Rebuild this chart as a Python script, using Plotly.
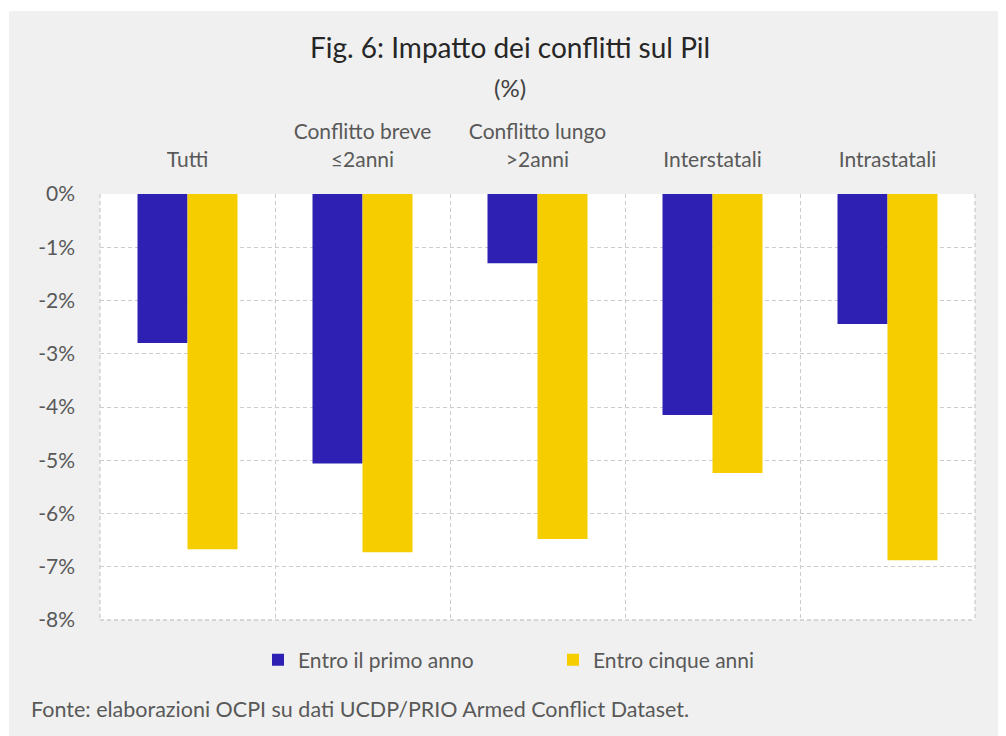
import plotly.graph_objects as go

categories = ["Tutti", "Conflitto breve<br>≤2anni", "Conflitto lungo<br>>2anni", "Interstatali", "Intrastatali"]
primo_anno = [-2.80, -5.06, -1.30, -4.15, -2.44]
cinque_anni = [-6.67, -6.73, -6.48, -5.24, -6.88]
series_names = ["Entro il primo anno", "Entro cinque anni"]
y_tickvals = [0, -1, -2, -3, -4, -5, -6, -7, -8]
y_ticktext = ["0%", "-1%", "-2%", "-3%", "-4%", "-5%", "-6%", "-7%", "-8%"]

BLUE = "#2e20b2"
YELLOW = "#f6ce00"
TXT = "#595959"
GRID = "#cccccc"
DASH = "4px,3px"
FONT = "Lato"

W, H = 1006, 736
OFF = 8  # page offset of the figure (body margin)
L, R, T, B = 100 - OFF, 975 - OFF, 194 - OFF, 620 - OFF
pw, ph = R - L, B - T


def px_x(page_px):
    return (page_px - OFF - L) / pw


def px_y(page_py):
    return (B - (page_py - OFF)) / ph


fig = go.Figure()
fig.add_trace(go.Bar(x=categories, y=primo_anno, name=series_names[0],
                     marker=dict(color=BLUE, line=dict(width=0))))
fig.add_trace(go.Bar(x=categories, y=cinque_anni, name=series_names[1],
                     marker=dict(color=YELLOW, line=dict(width=0))))

fig.update_layout(
    width=W, height=H,
    margin=dict(l=L, r=W - R, t=T, b=H - B, pad=0),
    paper_bgcolor="#f0f0f0",
    plot_bgcolor="white",
    barmode="group",
    bargap=75 / 175,
    bargroupgap=0,
    font=dict(family=FONT, color=TXT, size=21),
    showlegend=True,
    legend=dict(orientation="h", x=px_x(258), y=px_y(660), xanchor="left", yanchor="middle",
                font=dict(size=21, color=TXT), bgcolor="rgba(0,0,0,0)",
                entrywidth=250, entrywidthmode="pixels", itemsizing="constant"),
    xaxis=dict(
        side="top", type="category", tickson="boundaries",
        showgrid=True, gridcolor=GRID, griddash=DASH, gridwidth=1.3,
        ticks="", showline=False, zeroline=False,
        tickfont=dict(size=21, color=TXT), ticklabelstandoff=22,
    ),
    yaxis=dict(
        range=[-8, 0], tickvals=y_tickvals, ticktext=y_ticktext,
        showgrid=True, gridcolor=GRID, griddash=DASH, gridwidth=1.3,
        zeroline=False, showline=False, ticks="",
        tickfont=dict(size=21, color=TXT), ticklabelstandoff=24,
    ),
    shapes=[
        dict(type="rect", xref="paper", yref="paper", x0=px_x(0), x1=px_x(W + 20), y0=px_y(11), y1=px_y(0),
             fillcolor="white", line=dict(width=0), layer="below"),
        dict(type="rect", xref="paper", yref="paper", x0=px_x(0), x1=px_x(9), y0=px_y(H + 20), y1=px_y(0),
             fillcolor="white", line=dict(width=0), layer="below"),
        dict(type="line", xref="paper", yref="paper", x0=1, x1=1, y0=1, y1=0,
             line=dict(color=GRID, width=1.3, dash=DASH), layer="below"),
        dict(type="line", xref="paper", yref="paper", x0=0, x1=0, y0=1, y1=0,
             line=dict(color=GRID, width=1.3, dash=DASH), layer="below"),
        dict(type="line", xref="paper", yref="paper", x0=0, x1=1, y0=0, y1=0,
             line=dict(color=GRID, width=1.3, dash=DASH), layer="below"),
    ],
    annotations=[
        dict(text="Fig. 6: Impatto dei conflitti sul Pil", xref="paper", yref="paper",
             x=px_x(510), y=px_y(47), xanchor="center", yanchor="middle", showarrow=False,
             font=dict(size=28, color="#262626", family=FONT)),
        dict(text="(%)", xref="paper", yref="paper",
             x=px_x(510), y=px_y(87), xanchor="center", yanchor="middle", showarrow=False,
             font=dict(size=24, color="#404040", family=FONT)),
        dict(text="Fonte: elaborazioni OCPI su dati UCDP/PRIO Armed Conflict Dataset.", xref="paper", yref="paper",
             x=px_x(29), y=px_y(709), xanchor="left", yanchor="middle", showarrow=False,
             font=dict(size=21.5, color=TXT, family=FONT)),
    ],
)

fig.write_html("out.html")
